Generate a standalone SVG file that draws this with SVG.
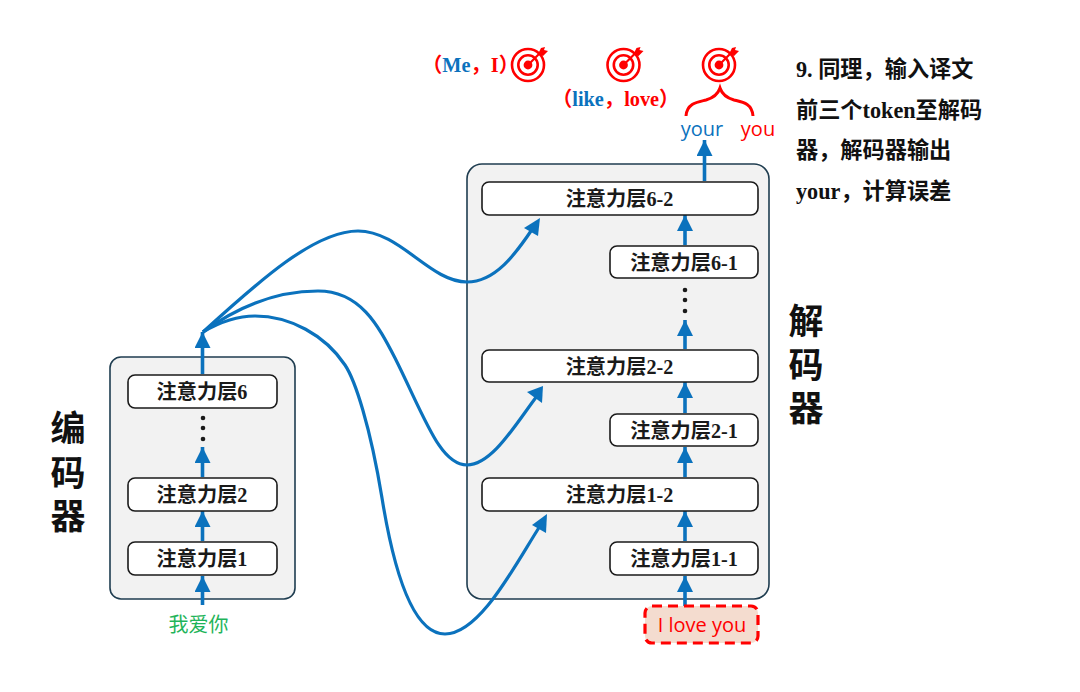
<svg xmlns="http://www.w3.org/2000/svg" width="1080" height="692" viewBox="0 0 1080 692">
<style>
.panel{fill:#f2f2f2;stroke:#1f3d50;stroke-width:1.6}
.box{fill:#fff;stroke:#1a1a1a;stroke-width:1.6}
.lbl{font-family:"Liberation Serif","Noto Sans CJK SC",serif;font-weight:700;font-size:20.200px;fill:#1a1a1a;text-anchor:middle}
.big{font-family:"Liberation Sans","Noto Sans CJK SC",sans-serif;font-weight:700;font-size:35px;fill:#111;text-anchor:middle}
.note{font-family:"Liberation Serif","Noto Sans CJK SC",serif;font-weight:700;font-size:22.200px;fill:#111}
.pair{font-family:"Liberation Serif","Noto Sans CJK SC",serif;font-weight:700;font-size:20.300px}
.sans{font-family:"Open Sans","Noto Sans CJK SC",sans-serif;font-size:20px}
.up{stroke:#0b72bd;stroke-width:3.6;fill:none;marker-end:url(#ah)}
.cv{stroke:#0b72bd;stroke-width:3.2;fill:none}
.red{fill:#ff0000}.blue{fill:#0b72bd}
.t{fill:none;stroke:#ff0000}
</style>
<defs>
<marker id="ah" markerUnits="userSpaceOnUse" markerWidth="18" markerHeight="18" refX="16" refY="8" orient="auto"><path d="M0 0L16 8L0 16Z" fill="#0b72bd"/></marker>
<g id="target"><circle r="16" class="t" stroke-width="2.600"/><circle r="9.700" class="t" stroke-width="2.600"/><circle r="4.400" fill="#ff0000"/><path d="M0 0L13 -13" stroke="#ff0000" stroke-width="2.200"/><path d="M10 -11L13 -17L17 -18L16 -15L20 -14L15 -9Z" fill="#ff0000"/></g>
</defs>

<g id="encoder-panel"><rect class="panel" x="110" y="357" width="185" height="242" rx="11"/></g>
<g id="decoder-panel"><rect class="panel" x="467" y="164" width="302" height="435" rx="15"/></g>

<g id="connectors">
<path class="up" d="M202.500 605V576"/>
<path class="up" d="M202.500 541V511"/>
<path class="up" d="M202.500 477V447"/>
<path class="up" d="M202.500 374V332"/>
<path class="up" d="M685 607V576"/>
<path class="up" d="M685 541V511"/>
<path class="up" d="M685 477V447"/>
<path class="up" d="M685 413V382"/>
<path class="up" d="M685 349V320"/>
<path class="up" d="M685 245V215"/>
<path class="up" d="M704.500 181V140"/>
<path class="cv" d="M203 332C260 280 315 231 358 231C400 231 430 282 467 282C495 282 515 255 533 228"/>
<path class="cv" d="M203 332C240 305 280 291 318 291C360 291 378 325 395 358C425 418 440 465 467 465C492 465 515 425 537 396"/>
<path class="cv" d="M203 332C220 322 238 316 255 316C290 316 325 335 345 365C355 380 370 425 382 498C392 560 410 634 445 634C480 634 515 565 540 526"/>
<path d="M524 228L540 218L538 236Z" fill="#0b72bd"/>
<path d="M527 392L543 386L542 403Z" fill="#0b72bd"/>
<path d="M532 525L547 514L546 533Z" fill="#0b72bd"/>
</g>

<g id="enc1"><rect class="box" x="128" y="542" width="149" height="33" rx="7"/><text class="lbl" x="202" y="566">注意力层1</text></g>
<g id="enc2"><rect class="box" x="128" y="478" width="149" height="33" rx="7"/><text class="lbl" x="202" y="502">注意力层2</text></g>
<g id="enc6"><rect class="box" x="128" y="375" width="149" height="33" rx="7"/><text class="lbl" x="202" y="399">注意力层6</text></g>
<g id="enc-dots" fill="#1a1a1a"><circle cx="203" cy="418" r="2.300"/><circle cx="203" cy="428" r="2.300"/><circle cx="203" cy="439" r="2.300"/></g>

<g id="dec11"><rect class="box" x="610" y="542" width="148" height="33" rx="7"/><text class="lbl" x="684" y="566">注意力层1-1</text></g>
<g id="dec12"><rect class="box" x="482" y="478" width="276" height="33" rx="7"/><text class="lbl" x="619.500" y="502">注意力层1-2</text></g>
<g id="dec21"><rect class="box" x="610" y="414" width="148" height="32" rx="7"/><text class="lbl" x="684" y="438">注意力层2-1</text></g>
<g id="dec22"><rect class="box" x="482" y="350" width="276" height="32" rx="7"/><text class="lbl" x="619.500" y="374">注意力层2-2</text></g>
<g id="dec61"><rect class="box" x="610" y="246" width="148" height="32" rx="7"/><text class="lbl" x="684" y="270">注意力层6-1</text></g>
<g id="dec62"><rect class="box" x="482" y="182" width="276" height="33" rx="7"/><text class="lbl" x="619.500" y="206">注意力层6-2</text></g>
<g id="dec-dots" fill="#1a1a1a"><circle cx="685" cy="290" r="2.300"/><circle cx="685" cy="300" r="2.300"/><circle cx="685" cy="311" r="2.300"/></g>

<g id="encoder-title"><text class="big"><tspan x="68" y="441">编</tspan><tspan x="68" y="486">码</tspan><tspan x="68" y="529">器</tspan></text></g>
<g id="decoder-title"><text class="big"><tspan x="806" y="334">解</tspan><tspan x="806" y="378">码</tspan><tspan x="806" y="421">器</tspan></text></g>

<g id="input-zh"><text class="sans" x="198.500" y="632" text-anchor="middle" fill="#1fb45a" font-size="20.500">我爱你</text></g>
<g id="input-en"><rect x="645" y="606" width="113" height="37" rx="7" fill="#f4dccf" stroke="#ff0000" stroke-width="3.200" stroke-dasharray="10 6"/><text class="sans" x="702" y="632" text-anchor="middle" fill="#ff0000">I love you</text></g>

<g id="out-your"><text class="sans" x="702" y="136" text-anchor="middle" fill="#0b72bd">your</text></g>
<g id="out-you"><text class="sans" x="758" y="136" text-anchor="middle" fill="#ff0000">you</text></g>
<g id="brace"><path d="M686 116C687 103 698 102 706 100C713 98 718 94 720 88C722 94 727 98 734 100C742 102 752 103 753 116" fill="none" stroke="#ff0000" stroke-width="3"/></g>

<use id="target1" href="#target" x="528" y="65"/>
<use id="target2" href="#target" x="623.500" y="65"/>
<use id="target3" href="#target" x="719" y="65"/>

<g id="pair1"><text class="pair" x="422" y="72"><tspan class="red">（</tspan><tspan class="blue">Me</tspan><tspan class="red">，I）</tspan></text></g>
<g id="pair2"><text class="pair" x="552" y="106"><tspan class="red">（</tspan><tspan class="blue">like</tspan><tspan class="red">，love）</tspan></text></g>

<g id="note"><text class="note" x="796" y="77">9. 同理，输入译文</text><text class="note" x="796" y="118">前三个token至解码</text><text class="note" x="796" y="158">器，解码器输出</text><text class="note" x="796" y="199">your，计算误差</text></g>
</svg>
